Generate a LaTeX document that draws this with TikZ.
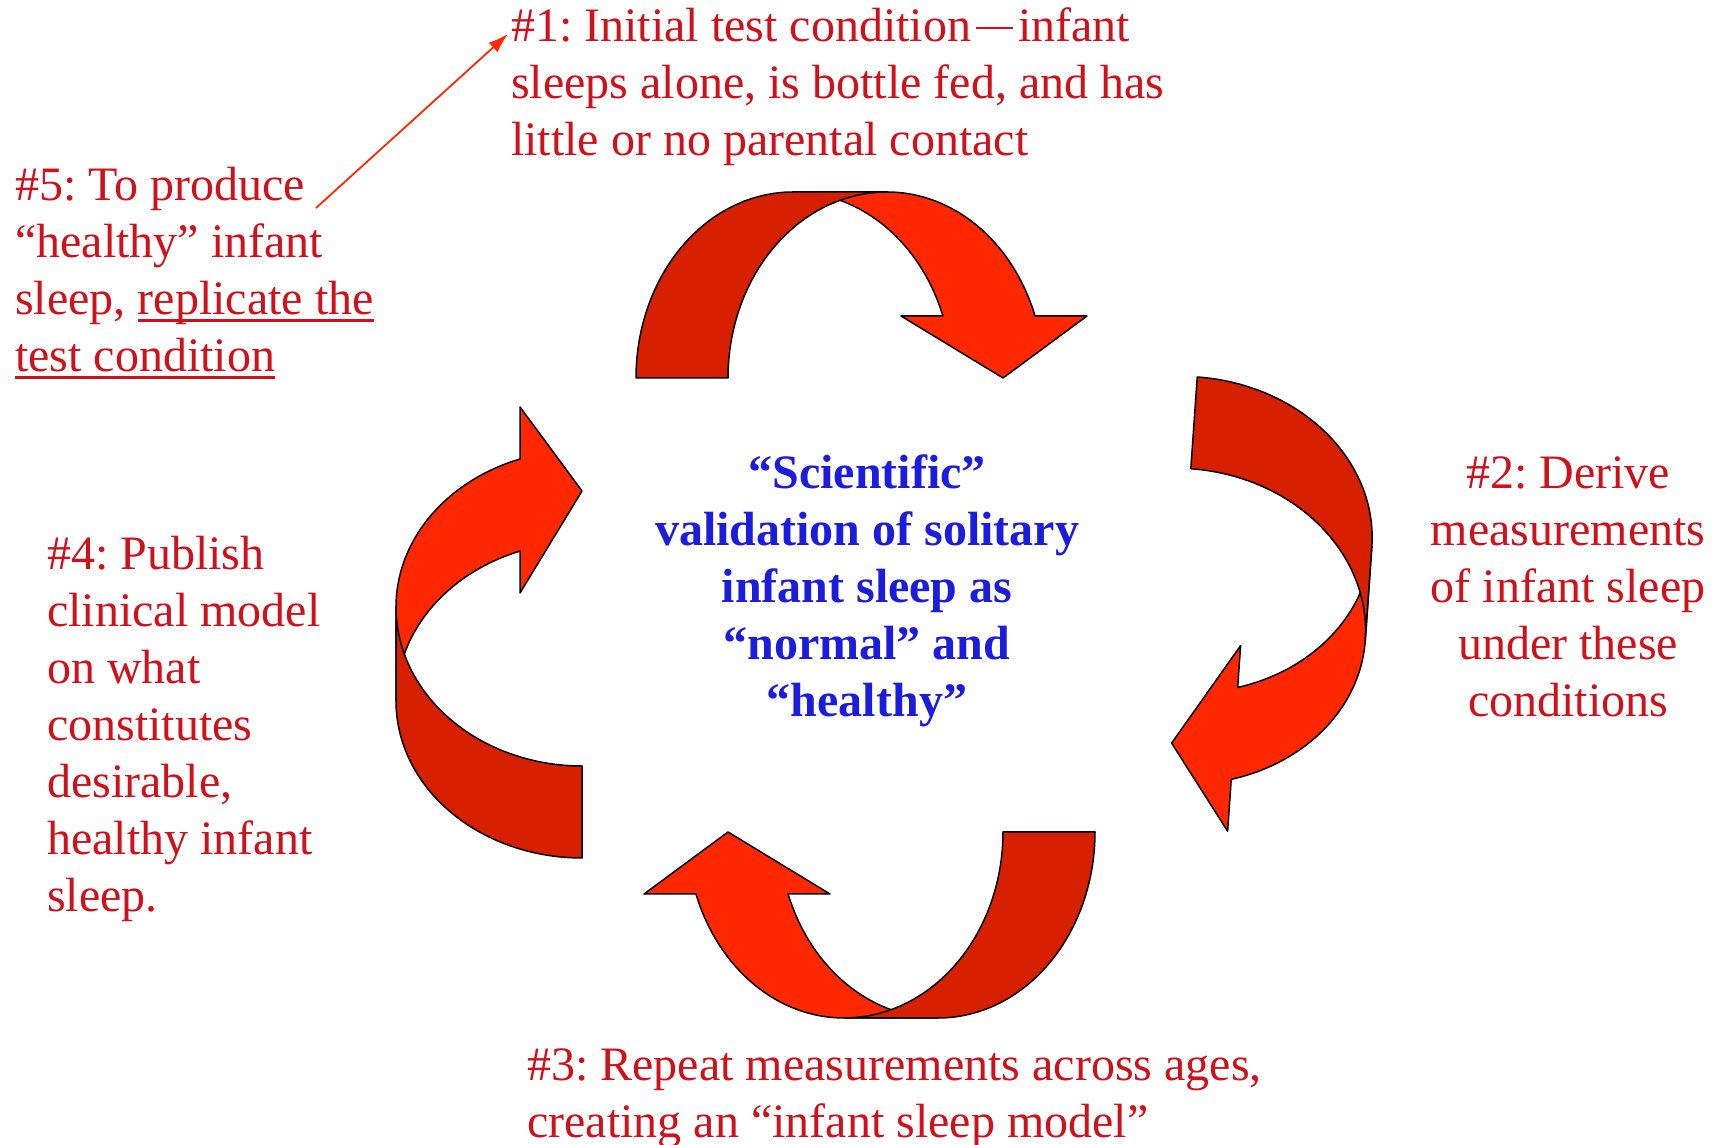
\documentclass[tikz,border=0pt]{standalone}
\usepackage{fontspec}
\setmainfont{Liberation Serif}
\usetikzlibrary{arrows.meta}
\frenchspacing
\definecolor{txtred}{RGB}{208,16,26}
\definecolor{txtblue}{RGB}{28,28,222}
\definecolor{arrdark}{RGB}{214,32,0}
\definecolor{arrbright}{RGB}{255,40,0}
\newcommand\myul[1]{\setbox0\hbox{#1}\rlap{\rule[-7.5pt]{\wd0}{3pt}}\box0}
\newcommand\mydash{\kern5pt\rule[12.5pt]{37pt}{2.4pt}\kern5pt}
\newcommand\curvedarrowshape[3]{%
 \begin{scope}[shift={(#1,#2)},rotate=#3]
  \filldraw[arrowpart, fill=arrbright] plot[domain=90:19.47] ({47+157*cos(\x)},{186*sin(\x)}) -- (247,62) -- (163,0) -- (61,62) -- plot[domain=19.47:90] ({-47+159*cos(\x)},{186*sin(\x)}) -- cycle;
  \filldraw[arrowpart, fill=arrdark] plot[domain=180:90] ({-47+157*cos(\x)},{186*sin(\x)}) -- (47,186) -- plot[domain=90:180] ({47+159*cos(\x)},{186*sin(\x)}) -- cycle;
 \end{scope}}
\tikzset{
  arrowpart/.style={draw=black, line width=1.5pt, line join=round, samples=60},
  redtxt/.style={text=txtred, inner sep=0pt, font=\fontsize{48}{57}\selectfont},
  bluetxt/.style={text=txtblue, inner sep=0pt, font=\fontsize{48}{57}\selectfont\bfseries},
  thinarrow/.style={draw=arrbright, line width=1.8pt, -{Latex[length=20pt,width=13pt]}}
}
\begin{document}
\begin{tikzpicture}[x=1pt,y=1pt]
\useasboundingbox (0,0) rectangle (1717,1145);
\fill[white] (0,0) rectangle (1717,1145);

% block arrows
\curvedarrowshape{840}{767}{0}
\curvedarrowshape{1183}{564.5}{-94}
\curvedarrowshape{891}{313}{180}
\curvedarrowshape{582}{491}{90}

% texts
\node[redtxt, anchor=base west] (n1) at (511,1103) {\begin{tabular}[t]{@{}l@{}}\#1: Initial test condition\mydash infant\\sleeps alone, is bottle fed, and has\\little or no parental contact\end{tabular}};
\node[redtxt, anchor=base] (n2) at (1568,656) {\begin{tabular}[t]{@{}c@{}}\#2: Derive\\measurements\\of infant sleep\\under these\\conditions\end{tabular}};
\node[redtxt, anchor=base west] (n3) at (527,64) {\begin{tabular}[t]{@{}l@{}}\#3: Repeat measurements across ages,\\creating an “infant sleep model”\end{tabular}};
\node[redtxt, anchor=base west] (n4) at (47,575) {\begin{tabular}[t]{@{}l@{}}\#4: Publish\\clinical model\\on what\\constitutes\\desirable,\\healthy infant\\sleep.\end{tabular}};
\node[redtxt, anchor=base west] (n5) at (15,944) {\begin{tabular}[t]{@{}l@{}}\#5: To produce\\“healthy” infant\\sleep, \myul{replicate the}\\\myul{test condition}\end{tabular}};
\node[bluetxt, anchor=base] (nc) at (867,656) {\begin{tabular}[t]{@{}c@{}}“Scientific”\\validation of solitary\\infant sleep as\\“normal” and\\“healthy”\end{tabular}};

% thin connector #5 -> #1
\coordinate (c5) at (316,937);
\coordinate (c1) at (508,1111);
\draw[thinarrow] (c5) -- (c1);
\end{tikzpicture}
\end{document}
